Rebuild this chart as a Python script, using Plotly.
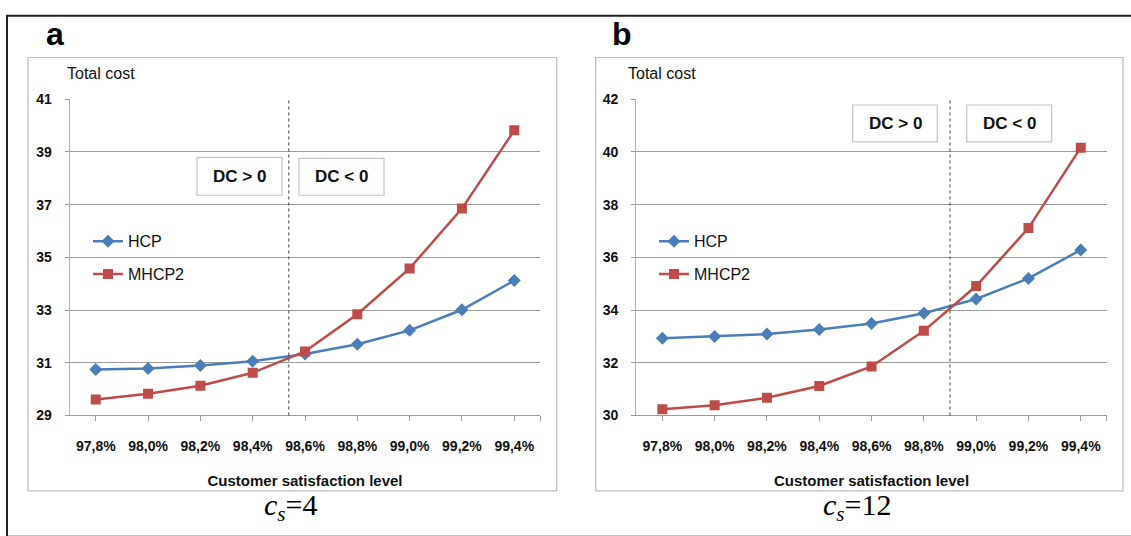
import plotly.graph_objects as go

W, H = 1131, 536

levels = ["97,8%", "98,0%", "98,2%", "98,4%", "98,6%", "98,8%", "99,0%", "99,2%", "99,4%"]
hcp_a = [30.74, 30.78, 30.90, 31.06, 31.33, 31.70, 32.23, 33.01, 34.12]
mhcp2_a = [29.61, 29.82, 30.13, 30.62, 31.43, 32.84, 34.58, 36.85, 39.82]
hcp_b = [32.93, 33.00, 33.09, 33.26, 33.49, 33.88, 34.42, 35.20, 36.28]
mhcp2_b = [30.24, 30.39, 30.67, 31.12, 31.86, 33.21, 34.91, 37.11, 40.16]
split_a = 3.69   # dotted separator position (category index units)
split_b = 5.5
yrange_a = [29, 41]
yrange_b = [30, 42]

BLUE = "#4A7EBB"
RED = "#BE4B48"
FONT = "Liberation Sans"

idx = list(range(len(levels)))


def px(x):
    return x / W


def py(y):
    return 1 - y / H


fig = go.Figure()

for (h, m, xa, ya, leg) in [(hcp_a, mhcp2_a, "x", "y", "legend"), (hcp_b, mhcp2_b, "x2", "y2", "legend2")]:
    fig.add_trace(go.Scatter(x=idx, y=h, mode="lines+markers", name="HCP", xaxis=xa, yaxis=ya,
                             line=dict(color=BLUE, width=2.5),
                             marker=dict(symbol="diamond", size=10, color=BLUE),
                             legend=leg, legendgroup="h" + xa))
    fig.add_trace(go.Scatter(x=idx, y=m, mode="lines+markers", name="MHCP2", xaxis=xa, yaxis=ya,
                             line=dict(color=RED, width=2.5),
                             marker=dict(symbol="square", size=10, color=RED),
                             legend=leg, legendgroup="m" + xa))

xcommon = dict(
    tickmode="array",
    tickvals=idx,
    ticktext=levels,
    range=[-0.5, len(levels) - 0.5],
    showgrid=False, zeroline=False,
    showline=True, linecolor="#9a9a9a", linewidth=1,
    ticks="outside", ticklen=5, tickcolor="#9a9a9a",
    minor=dict(tickmode="array", tickvals=[len(levels) - 0.5], ticks="outside", ticklen=5,
               tickcolor="#9a9a9a", showgrid=False),
    tickfont=dict(family=FONT, size=14, color="#111111", weight="bold"),
    ticklabelstandoff=13,
    title=dict(text="<b>Customer satisfaction level</b>", font=dict(family=FONT, size=15, color="#111111"),
               standoff=22),
    fixedrange=True,
)
ycommon = dict(
    dtick=2,
    showgrid=True, gridcolor="#9a9a9a", gridwidth=1,
    zeroline=False,
    showline=True, linecolor="#b0b0b0", linewidth=1,
    ticks="outside", ticklen=4, tickcolor="#9a9a9a",
    tickfont=dict(family=FONT, size=14, color="#111111", weight="bold"),
    ticklabelstandoff=10,
    fixedrange=True,
)

fig.update_layout(
    width=W, height=H,
    margin=dict(l=0, r=0, t=0, b=0),
    paper_bgcolor="white", plot_bgcolor="white",
    xaxis=dict(domain=[px(69.6), px(540.4)], anchor="y", **xcommon),
    xaxis2=dict(domain=[px(636.2), px(1106.9)], anchor="y2", **xcommon),
    yaxis=dict(domain=[py(420), py(94)], range=yrange_a, tick0=yrange_a[0], anchor="x", **ycommon),
    yaxis2=dict(domain=[py(420), py(94)], range=yrange_b, tick0=yrange_b[0], anchor="x2", **ycommon),
    legend=dict(x=px(88), y=py(223), xanchor="left", yanchor="top", bgcolor="rgba(0,0,0,0)",
                font=dict(family=FONT, size=16, color="#111111"), itemwidth=30, tracegroupgap=9),
    legend2=dict(x=px(654), y=py(223), xanchor="left", yanchor="top", bgcolor="rgba(0,0,0,0)",
                 font=dict(family=FONT, size=16, color="#111111"), itemwidth=30, tracegroupgap=9),
    showlegend=True,
)

shapes = []
# outer frame
shapes.append(dict(type="rect", xref="paper", yref="paper", x0=px(7), x1=px(1140), y0=py(545), y1=py(8),
                   line=dict(color="#222222", width=2)))
# chart boxes
for (x0, x1) in [(28, 556.7), (595.7, 1123)]:
    shapes.append(dict(type="rect", xref="paper", yref="paper", x0=px(x0), x1=px(x1), y0=py(497.7), y1=py(51),
                       line=dict(color="#bdbdbd", width=1.2)))
# dotted separators
shapes.append(dict(type="line", xref="x", yref="y domain", x0=split_a, x1=split_a, y0=0, y1=1.005,
                   line=dict(color="#444444", width=1, dash="dot")))
shapes.append(dict(type="line", xref="x2", yref="y2 domain", x0=split_b, x1=split_b, y0=0, y1=1.005,
                   line=dict(color="#444444", width=1, dash="dot")))
# DC boxes
dc_boxes = [(197, 282, 154, 193, "DC > 0"), (299, 384, 155, 193, "DC < 0"),
            (852.7, 937.3, 100, 138, "DC > 0"), (966.7, 1051.7, 100, 138, "DC < 0")]
annotations = []
for (x0, x1, y0, y1, t) in dc_boxes:
    shapes.append(dict(type="rect", xref="paper", yref="paper", x0=px(x0), x1=px(x1), y0=py(y1), y1=py(y0),
                       line=dict(color="#c4c4c4", width=1.2), fillcolor="white", layer="above"))
    annotations.append(dict(text="<b>" + t + "</b>", xref="paper", yref="paper", x=px((x0 + x1) / 2),
                            y=py((y0 + y1) / 2), showarrow=False, xanchor="center", yanchor="middle",
                            font=dict(family=FONT, size=17, color="#111111")))

# Total cost labels
for x in [65, 626]:
    annotations.append(dict(text="Total cost", xref="paper", yref="paper", x=px(x), y=py(67), showarrow=False,
                            xanchor="left", yanchor="middle", font=dict(family=FONT, size=16, color="#111111")))
# panel letters
for (x, t) in [(44, "a"), (610, "b")]:
    annotations.append(dict(text="<b>" + t + "</b>", xref="paper", yref="paper", x=px(x), y=py(27), showarrow=False,
                            xanchor="left", yanchor="middle", font=dict(family=FONT, size=32, color="#000000")))
# c_s labels
for (x, t) in [(290, "4"), (857, "12")]:
    annotations.append(dict(text="<i>c</i><sub><i>s</i></sub>=" + t, xref="paper", yref="paper", x=px(x), y=0,
                            showarrow=False, xanchor="center", yanchor="bottom",
                            font=dict(family="Liberation Serif", size=30, color="#000000")))

fig.update_layout(shapes=shapes, annotations=annotations)

fig.write_html("out.html")
